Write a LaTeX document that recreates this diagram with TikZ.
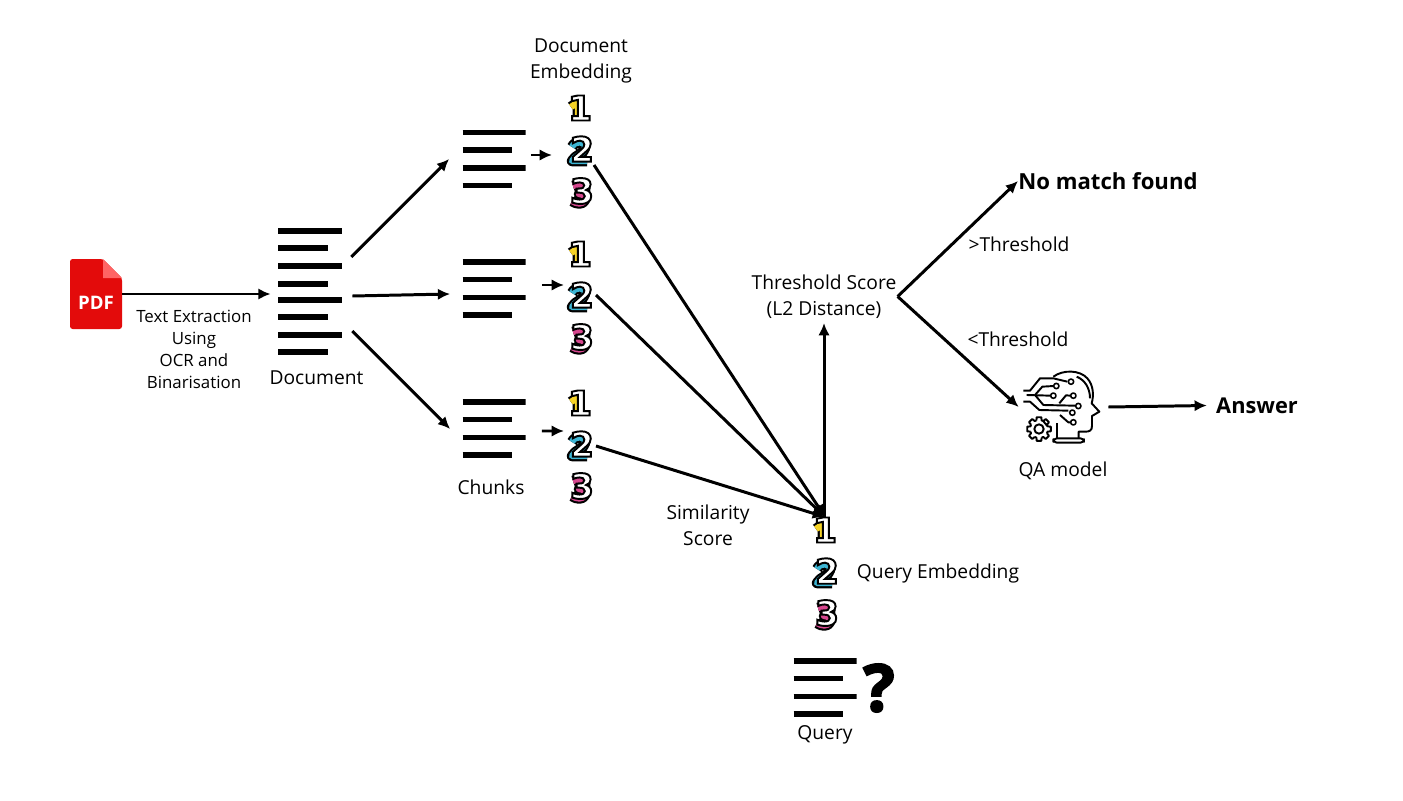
\documentclass[tikz,border=0pt]{standalone}
\usepackage{fontspec}
\setmainfont{Open Sans}
\newfontfamily\digitfont{DejaVu Sans}
\usepackage{tikz}
\usetikzlibrary{arrows.meta,positioning}

\definecolor{pdfred}{HTML}{E30B0B}
\definecolor{pdffold}{HTML}{FF6464}
\definecolor{digitone}{HTML}{F5D327}
\definecolor{digittwo}{HTML}{3DB5D3}
\definecolor{digitthree}{HTML}{D6478E}

\tikzset{
  flow/.style={line width=1.7pt,-{Latex[length=7pt,width=6.5pt]}},
  label/.style={inner sep=0pt,align=center,font=\fontsize{10.95}{14.8}\selectfont},
  smalllabel/.style={inner sep=0pt,align=center,font=\fontsize{9.6}{12.5}\selectfont},
  biglabel/.style={inner sep=0pt,font=\fontsize{12.6}{16}\selectfont\bfseries},
  bar/.style={line width=3.4pt},
  fourbars/.style={inner sep=0pt,minimum width=63\pxu,minimum height=60\pxu,path picture={
    \foreach \row/\len in {-26.5/63,-9/49,9/63,26.5/49}
      \draw[bar] ([shift={(0,\row)}]path picture bounding box.west) -- ++(\len,0);
  }},
  eightbars/.style={inner sep=0pt,minimum width=64\pxu,minimum height=128\pxu,path picture={
    \foreach \row/\len in {-60/64,-43/50,-25/64,-7/50,9/64,26/50,44/64,61/50}
      \draw[bar] ([shift={(0,\row)}]path picture bounding box.west) -- ++(\len,0);
  }},
  numeral/.style={inner sep=0pt,minimum size=30\pxu}
}
\newcommand{\pxu}{*0.02cm}
\newcommand{\digitshape}[3]{% name, position, digit
  \begin{scope}[shift={#2},shift={(-3,3)},line join=round]
    \ifcase#3\or
      \def\digitpath{(-6,-4) -- (1,-9) -- (1,9)}\def\digitcolor{digitone}\or
      \def\digitpath{(-7,-5) .. controls (-4,-12) and (7,-11) .. (6,-4) .. controls (5,2) and (-4,3) .. (-7,9) -- (8,9)}\def\digitcolor{digittwo}\or
      \def\digitpath{(-6,-8) .. controls (0,-11) and (8,-10) .. (6,-4) .. controls (5,-1) and (1,0) .. (0,0) .. controls (3,0) and (8,2) .. (6,6) .. controls (4,11) and (-3,10) .. (-7,7)}\def\digitcolor{digitthree}\fi
    \draw[line width=6pt] \digitpath;
    \draw[\digitcolor,line width=3.6pt] \digitpath;
  \end{scope}
  \node[numeral] (#1) at #2 {\digitfont\fontsize{19.5}{20}\selectfont\bfseries\color{white}\special{pdf:code 2 Tr 1.1 w 0 G}#3\special{pdf:code 0 Tr}};
}

\begin{document}
\begin{tikzpicture}[x=0.02cm,y=-0.02cm]
  \useasboundingbox[fill=white] (0,0) rectangle (1403,801);

  % pdf file
  \node[inner sep=0pt,minimum width=52\pxu,minimum height=70\pxu] (pdf) at (96,294) {};
  \fill[pdfred,rounded corners=1.5pt] (70,259) -- (103,259) -- (122,278) -- (122,329) -- (70,329) -- cycle;
  \fill[pdffold] (103,259) -- (122,278) -- (103,278) -- cycle;
  \node[inner sep=0pt,text=white,font=\fontsize{10.6}{12}\selectfont\bfseries] (pdftext) at (96,303) {PDF};

  % document and chunks
  \node[eightbars] (doc) at (310,291) {};
  \node[fourbars] (top) at (494,159) {};
  \node[fourbars] (mid) at (494,288.5) {};
  \node[fourbars] (low) at (494,428.5) {};
  \node[fourbars] (query) at (825,687.5) {};

  % embeddings
  \digitshape{aone}{(580,108)}{1}
  \digitshape{atwo}{(582,149)}{2}
  \digitshape{athree}{(582,191)}{3}
  \digitshape{bone}{(580,254)}{1}
  \digitshape{btwo}{(582,295)}{2}
  \digitshape{bthree}{(582,337)}{3}
  \digitshape{cone}{(580,403)}{1}
  \digitshape{ctwo}{(582,444)}{2}
  \digitshape{cthree}{(582,486)}{3}
  \digitshape{qone}{(825,530)}{1}
  \digitshape{qtwo}{(827,571)}{2}
  \digitshape{qthree}{(827,613)}{3}

  % qa model
  \node[inner sep=0pt,minimum width=80\pxu,minimum height=90\pxu] (qa) at (1062,405) {};
  \begin{scope}[shift={(1010,360)},scale=1/3,line width=1.1pt,line join=round]
    \draw (130,50) .. controls (160,28) and (210,30) .. (232,55) .. controls (250,75) and (252,105) .. (245,130)
      -- (268,155) -- (246,168) -- (246,198) .. controls (246,212) and (238,215) .. (225,215) -- (206,215) -- (206,235);
    \draw (200,50) .. controls (225,60) and (240,85) .. (240,115);
    \draw (140,235) -- (140,190);
    \draw[rounded corners=2pt] (130,235) rectangle (222,248);
    \draw (40,92) -- (60,92) -- (90,55) -- (130,55) -- (172,65);
    \draw (50,105) -- (122,107);
    \draw (75,105) -- (97,80) -- (131,78);
    \draw (40,125) -- (60,125) -- (88,150) -- (175,152);
    \draw (75,105) -- (100,135) -- (195,137);
    \draw (148,130) -- (168,106) -- (182,107);
    \draw (150,165) -- (175,187) -- (182,187);
    \foreach \dotx/\doty in {183/65,139/78,130/107,190/107,205/138,187/158,190/187}
      \draw[fill=white,line width=0.9pt] (\dotx,\doty) circle (8);
    \draw (87,207) circle (14);
    \draw (87,207) \foreach \tooth in {0,45,...,315} {
      +(\tooth-17:27) -- +(\tooth-11:36) -- +(\tooth+11:36) -- +(\tooth+17:27) -- +(\tooth+28:27)
      } -- cycle;
  \end{scope}

  % labels
  \node[label] (embedtext) at (581,61) {Document\\Embedding};
  \node[smalllabel] (extract) at (194,349.5) {Text Extraction\\Using\\OCR and\\Binarisation};
  \node[label] (doctext) at (316.5,378) {Document};
  \node[label] (chunktext) at (491,487.5) {Chunks};
  \node[label] (similar) at (708,525.5) {Similarity\\Score};
  \node[label] (thresh) at (824,296.5) {Threshold Score\\(L2 Distance)};
  \node[label] (above) at (1019,244.5) {>Threshold};
  \node[label] (below) at (1018,339.5) {<Threshold};
  \node[biglabel] (nomatch) at (1108,181) {No match found};
  \node[biglabel,font=\fontsize{12.4}{14}\selectfont\bfseries] (answer) at (1257,405.5) {Answer};
  \node[label] (qatext) at (1063,471) {QA model};
  \node[label] (qetext) at (938,573.5) {Query Embedding};
  \node[label] (querytext) at (825,735) {Query};
  \node[inner sep=0pt,font=\fontsize{37}{37}\selectfont\bfseries] (mark) at (879,688) {\special{pdf:code 2 Tr 1.2 w}?\special{pdf:code 0 Tr}};

  % connectors
  \draw[flow] (pdf.east) -- ([shift={(-7,3)}]doc.west);
  \draw[flow] ([shift={(9,-34)}]doc.east) -- ([shift={(-13,0)}]top.west);
  \draw[flow] ([shift={(10,5)}]doc.east) -- ([shift={(-12,5.5)}]mid.west);
  \draw[flow] ([shift={(10,40)}]doc.east) -- ([shift={(-12,0.5)}]low.west);
  \draw[flow] ([shift={(5,-4)}]top.east) -- ([shift={(-30,6)}]atwo.center);
  \draw[flow] ([shift={(16,-3.5)}]mid.east) -- ([shift={(-18,-10)}]btwo.center);
  \draw[flow] ([shift={(16,2.5)}]low.east) -- ([shift={(-18,-13)}]ctwo.center);
  \draw[flow] ([shift={(12,16)}]atwo.center) -- ([shift={(0,-13)}]qone.center);
  \draw[flow] ([shift={(14,0)}]btwo.center) -- ([shift={(0,-13)}]qone.center);
  \draw[flow] ([shift={(14,2)}]ctwo.center) -- ([shift={(0,-13)}]qone.center);
  \draw[flow] ([shift={(-1,-13)}]qone.center) -- ([shift={(0,26.5)}]thresh.center);
  \draw[flow] ([shift={(1,0)}]thresh.east) -- (nomatch.west);
  \draw[flow] ([shift={(1,0)}]thresh.east) -- ([shift={(-3,2)}]qa.west);
  \draw[flow] ([shift={(6,2)}]qa.east) -- ([shift={(-9,0)}]answer.west);
\end{tikzpicture}
\end{document}
